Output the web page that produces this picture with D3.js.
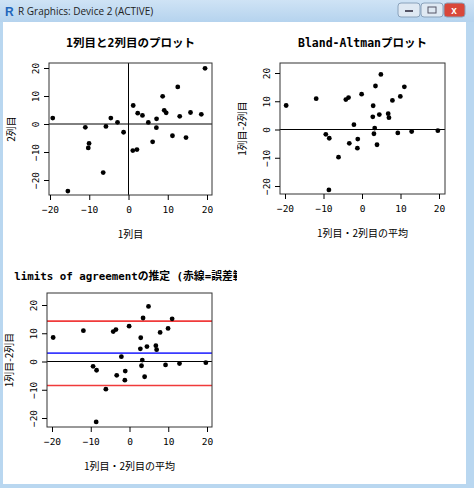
<!DOCTYPE html>
<html><head><meta charset="utf-8">
<script src="https://cdn.jsdelivr.net/npm/d3@7"></script>
<style>body{margin:0;background:#fff}svg{display:block}</style>
</head><body><div id="chart"></div>
<script>
// Bland-Altman の平均・差
const meanVals = [-19.7,-11.9,-4.2,-3.5,-0.1,4.9,3.5,11.0,9.95,7.9,2.9,6.8,7.0,4.5,2.8,3.3,3.1,9.3,12.9,19.7,3.9,-2.1,-9.4,-8.5,-1.1,-3.3,-1.2,-6.1,-8.6];
const diffVals = [8.5,10.9,10.6,11.3,12.5,19.5,15.4,15.1,11.7,10.3,8.4,5.6,4.2,5.3,4.5,0.5,-1.5,-1.2,-0.7,-0.4,-5.4,1.7,-1.7,-3.1,-3.4,-4.9,-6.6,-9.8,-21.4];
const meanLine = [2.96];
const loaLines = [14.3, -8.5];
const ticks = [-20,-10,0,10,20];
const titles = ["1列目と2列目のプロット","Bland-Altmanプロット","limits of agreementの推定 (赤線=誤差範囲)"];

const col1 = meanVals.map((m,i)=>m+diffVals[i]/2);
const col2 = meanVals.map((m,i)=>m-diffVals[i]/2);

const W=474,H=488;
const svg=d3.select("#chart").append("svg").attr("width",W).attr("height",H);
const MONO="'DejaVu Sans Mono','Noto Sans CJK JP',monospace";
const JP="'Noto Sans CJK JP',sans-serif";

// ウィンドウ枠
const grad=svg.append("defs").append("linearGradient").attr("id","tb").attr("x1",0).attr("y1",0).attr("x2",0).attr("y2",1);
grad.append("stop").attr("offset",0).attr("stop-color","#cfe3f5");
grad.append("stop").attr("offset",1).attr("stop-color","#b5d3ee");
svg.append("rect").attr("width",W).attr("height",H).attr("fill","#b9d7f0");
svg.append("rect").attr("width",W).attr("height",22).attr("fill","url(#tb)");
svg.append("rect").attr("x",3).attr("y",22).attr("width",W-11).attr("height",H-26).attr("fill","#fff");
svg.append("text").attr("x",5).attr("y",16).attr("font-family","Liberation Sans").attr("font-size",12).attr("font-weight",700).attr("fill","#2266bb").text("R");
svg.append("text").attr("x",18).attr("y",15).attr("font-family","'Open Sans',sans-serif").attr("font-size",10).attr("fill","#222").text("R Graphics: Device 2 (ACTIVE)");
[[398,"#dfe9f3"],[421,"#dfe9f3"],[444,"#d9473a"]].forEach(([x,c],i)=>{
  svg.append("rect").attr("x",x).attr("y",3).attr("width",i==2?21:22).attr("height",14).attr("rx",3).attr("fill",c).attr("stroke","#8aa2bb");
});
svg.append("text").attr("x",454).attr("y",14).attr("text-anchor","middle").attr("font-size",10).attr("font-weight",700).attr("fill","#fff").attr("font-family","Liberation Sans").text("x");
svg.append("rect").attr("x",405).attr("y",10).attr("width",8).attr("height",2).attr("fill","#556");
svg.append("rect").attr("x",428).attr("y",7).attr("width",8).attr("height",6).attr("fill","none").attr("stroke","#556");

function panel(cfg){
  const clipId="c"+cfg.id;
  svg.append("clipPath").attr("id",clipId).append("rect").attr("x",cfg.clip[0]).attr("y",cfg.clip[1]).attr("width",cfg.clip[2]).attr("height",cfg.clip[3]);
  const g=svg.append("g").attr("clip-path",`url(#${clipId})`);
  const [bx0,bx1,by0,by1]=cfg.box;
  const x=d3.scaleLinear().domain([-20,20]).range(cfg.xr);
  const y=d3.scaleLinear().domain([-20,20]).range(cfg.yr);
  g.append("text").attr("x",(bx0+bx1)/2+(cfg.titleDx||0)).attr("y",cfg.titleY).attr("text-anchor","middle")
    .attr("font-family",MONO).attr("font-size",cfg.titleSize||11.5).attr("font-weight",700).text(cfg.title);
  const inner=g.append("g");
  cfg.hlines.forEach(h=>inner.append("line").attr("x1",bx0).attr("x2",bx1).attr("y1",y(h.v)).attr("y2",y(h.v))
    .attr("stroke",h.c).attr("stroke-width",h.w||1));
  if(cfg.vzero) inner.append("line").attr("x1",x(0)).attr("x2",x(0)).attr("y1",by0).attr("y2",by1).attr("stroke","#000");
  inner.selectAll("circle").data(cfg.pts).join("circle").attr("cx",d=>x(d[0])).attr("cy",d=>y(d[1])).attr("r",2.4).attr("fill","#000");
  g.append("rect").attr("x",bx0).attr("y",by0).attr("width",bx1-bx0).attr("height",by1-by0).attr("fill","none").attr("stroke","#333");
  const ax=g.append("g").attr("transform",`translate(0,${by1})`).call(d3.axisBottom(x).tickValues(ticks).tickSize(5).tickPadding(6).tickFormat(d3.format("d")));
  const ay=g.append("g").attr("transform",`translate(${bx0},0)`).call(d3.axisLeft(y).tickValues(ticks).tickSize(5).tickFormat(d3.format("d")));
  [ax,ay].forEach(a=>{a.select(".domain").remove();a.selectAll("text").attr("font-family",MONO).attr("font-size",9.5).attr("fill","#000");});
  ay.selectAll(".tick text").attr("x",-13).attr("y",0).attr("dy","0.35em").attr("text-anchor","middle").attr("transform","rotate(-90,-13,0)");
  g.append("text").attr("x",(bx0+bx1)/2).attr("y",by1+43).attr("text-anchor","middle").attr("font-family",JP).attr("font-size",10).text(cfg.xlab);
  g.append("text").attr("transform",`translate(${bx0-34},${(by0+by1)/2}) rotate(-90)`).attr("text-anchor","middle").attr("font-family",JP).attr("font-size",10).text(cfg.ylab);
}

panel({id:1,clip:[3,22,234,228],box:[49,212,63,195],xr:[50,207],yr:[180,68],titleY:47,title:titles[0],
  hlines:[{v:0,c:"#000"}],vzero:true,pts:col1.map((v,i)=>[v,col2[i]]),xlab:"1列目",ylab:"2列目"});
panel({id:2,clip:[237,22,229,228],box:[280,445,63,194],xr:[285,439],yr:[186,73],titleY:47,title:titles[1],
  hlines:[{v:0,c:"#000"}],vzero:false,pts:meanVals.map((v,i)=>[v,diffVals[i]]),xlab:"1列目・2列目の平均",ylab:"1列目-2列目"});
panel({id:3,clip:[3,250,234,234],box:[47,212,293,427],xr:[52,207],yr:[418,305],titleY:280,titleDx:8,titleSize:10.8,title:titles[2],
  hlines:[{v:0,c:"#000"},{v:meanLine[0],c:"#3a3aff",w:1.6},{v:loaLines[0],c:"#f03a3a",w:1.6},{v:loaLines[1],c:"#f03a3a",w:1.6}],vzero:false,
  pts:meanVals.map((v,i)=>[v,diffVals[i]]),xlab:"1列目・2列目の平均",ylab:"1列目-2列目"});
</script></body></html>
